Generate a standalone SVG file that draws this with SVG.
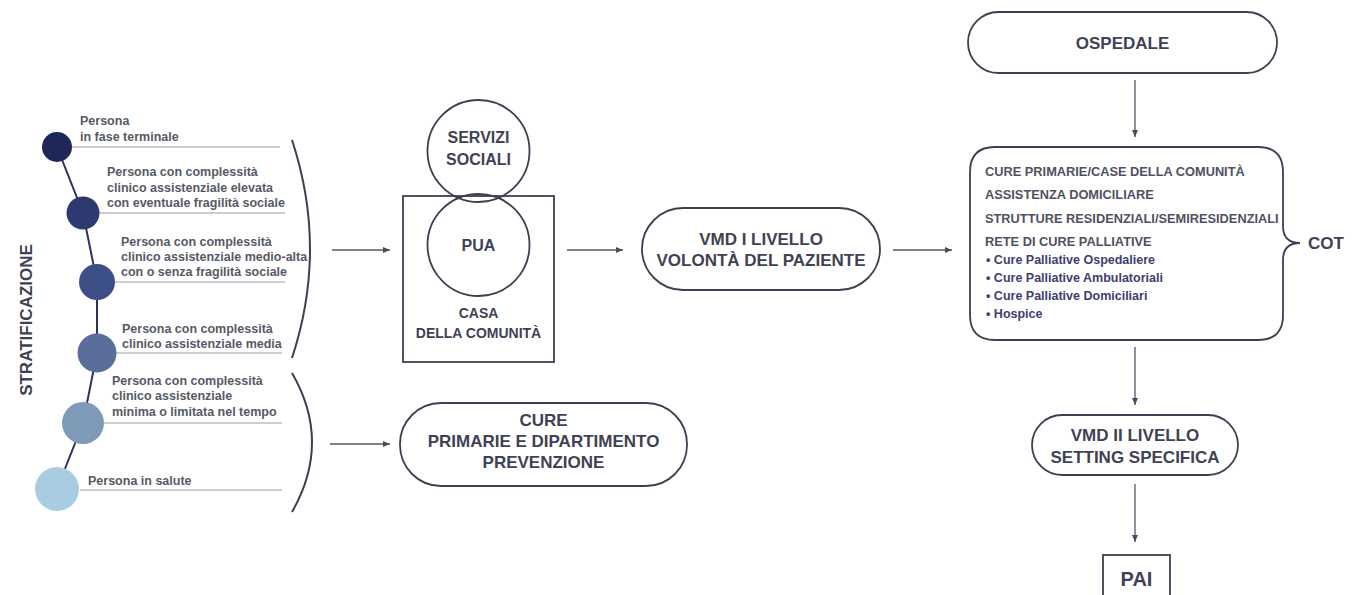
<svg xmlns="http://www.w3.org/2000/svg" width="1365" height="595" viewBox="0 0 1365 595">
  <defs>
    <marker id="arrow" markerUnits="userSpaceOnUse" markerWidth="8" markerHeight="6" refX="7" refY="3" orient="auto">
      <path d="M0,0 L7,3 L0,6 Z" fill="#4a4c58"/>
    </marker>
    <style>
      .conn { fill: none; stroke: #55576a; stroke-width: 1.3; marker-end: url(#arrow); }
      .shape { fill: none; stroke: #3d4050; stroke-width: 1.8; }
      .label { font-family: "Liberation Sans", Arial, sans-serif; font-weight: bold; font-size: 17px; fill: #3f4254; text-anchor: middle; }
      .small { font-family: "Liberation Sans", Arial, sans-serif; font-weight: bold; font-size: 12.5px; fill: #575a66; }
      .list { font-family: "Liberation Sans", Arial, sans-serif; font-weight: bold; font-size: 12.8px; fill: #4f5160; }
      .bullet { font-family: "Liberation Sans", Arial, sans-serif; font-weight: bold; font-size: 12.5px; fill: #3e4070; }
      .rule { stroke: #9c9ea6; stroke-width: 1.2; }
      .brace { fill: none; stroke: #3d4050; stroke-width: 2; }
    </style>
  </defs>

  <rect width="1365" height="595" fill="#ffffff"/>

  <!-- vertical title -->
  <text class="label" x="26" y="326" transform="rotate(-90 26 320)">STRATIFICAZIONE</text>

  <!-- stratification chain -->
  <g id="strata">
    <polyline points="57,147 83,213 97,282 97,353 83,423 57,489" fill="none" stroke="#2c3360" stroke-width="2"/>
    <line class="rule" x1="72" y1="147" x2="280" y2="147"/>
    <line class="rule" x1="97" y1="213" x2="285" y2="213"/>
    <line class="rule" x1="115" y1="282" x2="285" y2="282"/>
    <line class="rule" x1="115" y1="353" x2="282" y2="353"/>
    <line class="rule" x1="103" y1="423" x2="282" y2="423"/>
    <line class="rule" x1="80" y1="490" x2="282" y2="490"/>
    <circle cx="57" cy="147" r="15" fill="#1e2757"/>
    <circle cx="83" cy="213" r="16.5" fill="#2c3a70"/>
    <circle cx="97" cy="282" r="18" fill="#3d4f87"/>
    <circle cx="97" cy="353" r="19.5" fill="#5a6e9c"/>
    <circle cx="83" cy="423" r="21" fill="#7e9ab8"/>
    <circle cx="57" cy="489" r="22" fill="#a9cde0"/>
  </g>

  <g id="level-1">
    <text class="small" x="80" y="125">Persona</text>
    <text class="small" x="80" y="141">in fase terminale</text>
  </g>
  <g id="level-2">
    <text class="small" x="107" y="176">Persona con complessità</text>
    <text class="small" x="107" y="192">clinico assistenziale elevata</text>
    <text class="small" x="107" y="207">con eventuale fragilità sociale</text>
  </g>
  <g id="level-3">
    <text class="small" x="121" y="246">Persona con complessità</text>
    <text class="small" x="121" y="261">clinico assistenziale medio-alta</text>
    <text class="small" x="121" y="276">con o senza fragilità sociale</text>
  </g>
  <g id="level-4">
    <text class="small" x="122" y="333">Persona con complessità</text>
    <text class="small" x="122" y="348">clinico assistenziale media</text>
  </g>
  <g id="level-5">
    <text class="small" x="112" y="385">Persona con complessità</text>
    <text class="small" x="112" y="400">clinico assistenziale</text>
    <text class="small" x="112" y="416">minima o limitata nel tempo</text>
  </g>
  <g id="level-6">
    <text class="small" x="88" y="485">Persona in salute</text>
  </g>

  <!-- grouping brackets -->
  <g id="brackets">
    <path class="brace" d="M292,140 Q328,249 292,358"/>
    <path class="brace" d="M292,373 Q332,442 292,512"/>
  </g>

  <!-- casa della comunità -->
  <g id="casa-comunita">
    <rect class="shape" x="403" y="196" width="151" height="166"/>
    <text class="label" x="478.5" y="318" style="font-size:14px">CASA</text>
    <text class="label" x="478.5" y="338" style="font-size:14px">DELLA COMUNITÀ</text>
  </g>
  <g id="servizi-sociali">
    <circle class="shape" cx="478.5" cy="151" r="51"/>
    <text class="label" x="478.5" y="143" style="font-size:16px">SERVIZI</text>
    <text class="label" x="478.5" y="165" style="font-size:16px">SOCIALI</text>
  </g>
  <g id="pua">
    <circle class="shape" cx="478.5" cy="245" r="51"/>
    <text class="label" x="478.5" y="251" style="font-size:16px">PUA</text>
  </g>

  <g id="vmd-1">
    <rect class="shape" x="642" y="208" width="238" height="82" rx="41"/>
    <text class="label" x="761" y="245">VMD I LIVELLO</text>
    <text class="label" x="761" y="266">VOLONTÀ DEL PAZIENTE</text>
  </g>

  <g id="cure-primarie">
    <rect class="shape" x="400" y="403" width="287" height="83" rx="41"/>
    <text class="label" x="543.5" y="426">CURE</text>
    <text class="label" x="543.5" y="447">PRIMARIE E DIPARTIMENTO</text>
    <text class="label" x="543.5" y="468">PREVENZIONE</text>
  </g>

  <g id="ospedale">
    <rect class="shape" x="968" y="12" width="309" height="61" rx="30.5"/>
    <text class="label" x="1122.5" y="49">OSPEDALE</text>
  </g>

  <g id="rete-servizi">
    <path class="shape" d="M995,147 H1258 Q1283,147 1283,172 V226 Q1283,243 1300,243 Q1283,243 1283,260 V315 Q1283,340 1258,340 H995 Q970,340 970,315 V172 Q970,147 995,147 Z"/>
    <text class="list" x="985" y="176">CURE PRIMARIE/CASE DELLA COMUNITÀ</text>
    <text class="list" x="985" y="199">ASSISTENZA DOMICILIARE</text>
    <text class="list" x="985" y="223">STRUTTURE RESIDENZIALI/SEMIRESIDENZIALI</text>
    <text class="list" x="985" y="246">RETE DI CURE PALLIATIVE</text>
    <text class="bullet" x="986" y="264">• Cure Palliative Ospedaliere</text>
    <text class="bullet" x="986" y="282">• Cure Palliative Ambulatoriali</text>
    <text class="bullet" x="986" y="300">• Cure Palliative Domiciliari</text>
    <text class="bullet" x="986" y="318">• Hospice</text>
  </g>
  <g id="cot">
    <text class="label" x="1326" y="249">COT</text>
  </g>

  <g id="vmd-2">
    <rect class="shape" x="1032" y="415" width="206" height="60" rx="30"/>
    <text class="label" x="1135" y="441">VMD II LIVELLO</text>
    <text class="label" x="1135" y="463">SETTING SPECIFICA</text>
  </g>

  <g id="pai">
    <rect class="shape" x="1103" y="555" width="67" height="60"/>
    <text class="label" x="1136.5" y="586" style="font-size:20px">PAI</text>
  </g>

  <!-- flow connectors -->
  <g id="connectors">
    <line class="conn" x1="332" y1="250" x2="390" y2="250"/>
    <line class="conn" x1="330" y1="444" x2="390" y2="444"/>
    <line class="conn" x1="567" y1="250" x2="623" y2="250"/>
    <line class="conn" x1="893" y1="250" x2="952" y2="250"/>
    <line class="conn" x1="1135" y1="80" x2="1135" y2="137"/>
    <line class="conn" x1="1135" y1="347" x2="1135" y2="405"/>
    <line class="conn" x1="1135" y1="484" x2="1135" y2="542"/>
  </g>
</svg>
